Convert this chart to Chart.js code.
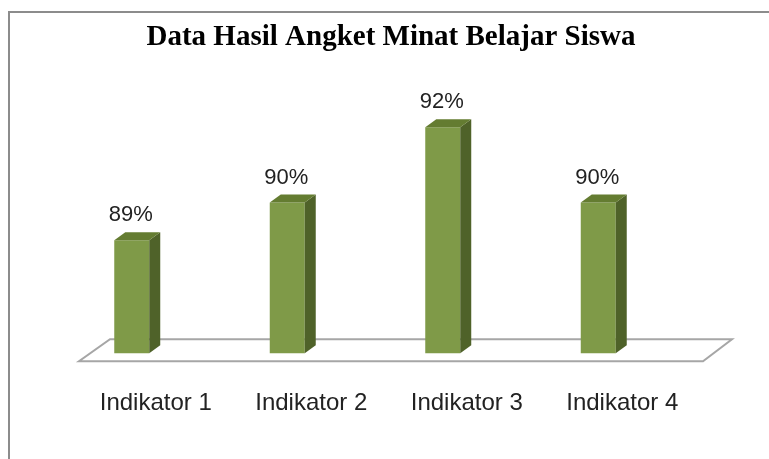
<!DOCTYPE html>
<html>
<head>
<meta charset="utf-8">
<script src="https://cdn.jsdelivr.net/npm/chart.js@4/dist/chart.umd.min.js"></script>
<style>
  html, body { margin: 0; padding: 0; background: #fff; }
  #wrap { width: 769px; height: 459px; }
</style>
</head>
<body>
<div id="wrap"><canvas id="angketChart" width="769" height="459"></canvas></div>
<script>
// Données du graphique
const categories = ['Indikator 1', 'Indikator 2', 'Indikator 3', 'Indikator 4'];
const values = [89, 90, 92, 90];
const yMin = 86;
const yMax = 94;

// Couleurs des faces (avant, dessus, côté)
const frontColor = '#7f9a48';
const topColor = '#647c31';
const sideColor = '#4f6229';

// Profondeur de l'effet 3D
const depthX = 11, depthY = 8;

const bar3d = {
  id: 'bar3d',
  beforeDraw(chart) {
    const ctx = chart.ctx;
    ctx.save();
    ctx.fillStyle = '#ffffff';
    ctx.fillRect(0, 0, chart.width, chart.height);
    // cadre gris (haut et gauche)
    ctx.strokeStyle = '#8c8c8c';
    ctx.lineWidth = 2;
    ctx.beginPath();
    ctx.moveTo(9, chart.height + 5);
    ctx.lineTo(9, 12);
    ctx.lineTo(chart.width + 5, 12);
    ctx.stroke();
    ctx.restore();
  },
  beforeDatasetsDraw(chart) {
    // plancher en perspective
    const ctx = chart.ctx;
    const area = chart.chartArea;
    const base = chart.scales.y.getPixelForValue(yMin);
    const fy = base + 8, by = base - 14;
    const fl = area.left + 25, fr = area.right + 27;
    ctx.save();
    ctx.fillStyle = '#ffffff';
    ctx.strokeStyle = '#a6a6a6';
    ctx.lineWidth = 2;
    ctx.beginPath();
    ctx.moveTo(fl, fy);
    ctx.lineTo(fr, fy);
    ctx.lineTo(fr + 29, by);
    ctx.lineTo(fl + 31, by);
    ctx.closePath();
    ctx.fill();
    ctx.stroke();
    ctx.restore();
  },
  afterDatasetsDraw(chart) {
    const ctx = chart.ctx;
    const meta = chart.getDatasetMeta(0);
    const base = chart.scales.y.getPixelForValue(yMin);
    ctx.save();
    meta.data.forEach((bar, i) => {
      const p = bar.getProps(['x', 'y', 'width'], true);
      const left = p.x - p.width / 2;
      const right = p.x + p.width / 2;
      // côté droit
      ctx.fillStyle = sideColor;
      ctx.beginPath();
      ctx.moveTo(right, p.y);
      ctx.lineTo(right + depthX, p.y - depthY);
      ctx.lineTo(right + depthX, base - depthY);
      ctx.lineTo(right, base);
      ctx.closePath();
      ctx.fill();
      // dessus
      ctx.fillStyle = topColor;
      ctx.beginPath();
      ctx.moveTo(left, p.y);
      ctx.lineTo(left + depthX, p.y - depthY);
      ctx.lineTo(right + depthX, p.y - depthY);
      ctx.lineTo(right, p.y);
      ctx.closePath();
      ctx.fill();
      // étiquette de valeur
      ctx.fillStyle = '#222222';
      ctx.font = '22px "Liberation Sans", Arial, sans-serif';
      ctx.textAlign = 'center';
      ctx.textBaseline = 'alphabetic';
      ctx.fillText(values[i] + '%', p.x - 1, p.y - 19);
    });
    ctx.restore();
  }
};

const ctx = document.getElementById('angketChart').getContext('2d');
new Chart(ctx, {
  type: 'bar',
  data: {
    labels: categories,
    datasets: [{
      data: values,
      backgroundColor: frontColor,
      borderWidth: 0,
      barPercentage: 0.225,
      categoryPercentage: 1
    }]
  },
  options: {
    responsive: false,
    animation: false,
    layout: { padding: { left: 54, right: 41, top: 0, bottom: 13 } },
    plugins: {
      legend: { display: false },
      tooltip: { enabled: false },
      title: {
        display: true,
        text: 'Data Hasil Angket Minat Belajar Siswa',
        color: '#000000',
        font: { family: '"Liberation Serif", "Times New Roman", serif', size: 29, weight: 'bold', lineHeight: 1 },
        padding: { top: 23, bottom: 0 }
      }
    },
    scales: {
      x: {
        grid: { display: false },
        border: { display: false },
        ticks: {
          color: '#222222',
          font: { family: '"Liberation Sans", Arial, sans-serif', size: 24 },
          padding: 28,
          labelOffset: 24,
          maxRotation: 0
        }
      },
      y: {
        position: 'right',
        min: yMin,
        max: yMax,
        grid: { display: false },
        border: { display: false },
        ticks: { display: false },
        afterFit(scale) { scale.width = 52; }
      }
    }
  },
  plugins: [bar3d]
});
</script>
</body>
</html>
